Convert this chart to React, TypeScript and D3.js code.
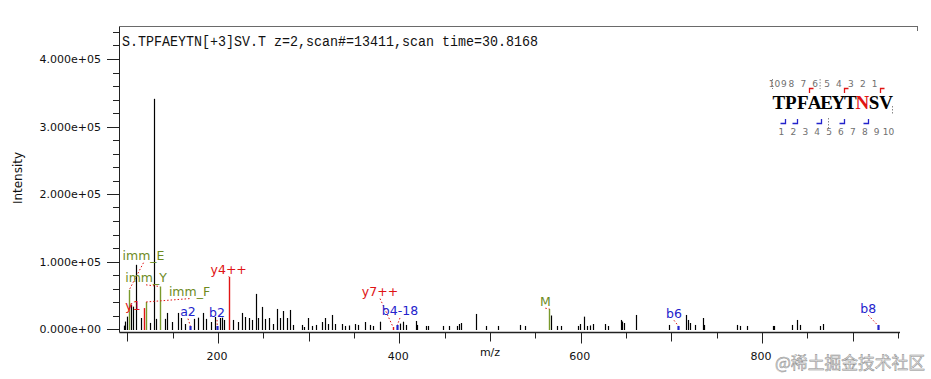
import React from "react";
import * as d3 from "d3";

// ---------- data ----------
const titleText = "S.TPFAEYTN[+3]SV.T z=2,scan#=13411,scan time=30.8168";
const xAxisTitle = "m/z";
const yAxisTitle = "Intensity";

// unannotated (black) peaks
const noiseMz = [
  95.8, 97.8, 100.0, 104.4, 106.3, 109.9, 114.7, 124.7, 129.1, 132.0, 141.2, 144.1, 149.3, 155.9,
  159.5, 163.3, 173.5, 177.9, 183.5, 187.1, 191.9, 197.0, 201.9, 204.4, 206.6, 216.5, 222.1, 226.1,
  229.8, 234.5, 237.8, 241.4, 244.4, 248.2, 251.8, 256.2, 261.0, 265.1, 268.4, 272.0, 275.8, 279.4,
  283.0, 292.3, 295.2, 298.9, 303.3, 307.8, 315.0, 318.0, 321.0, 325.4, 329.0, 336.4, 340.1, 344.5,
  351.1, 354.7, 362.1, 367.6, 371.3, 378.7, 400.7, 404.4, 407.3, 418.7, 420.0, 429.4, 431.9, 447.8,
  455.1, 463.2, 466.1, 467.7, 484.5, 495.6, 509.1, 533.1, 538.6, 567.8, 574.2, 578.0, 597.4, 599.2,
  603.7, 606.6, 610.3, 613.9, 626.8, 629.8, 644.5, 645.9, 648.1, 660.7, 697.4, 715.9, 718.0, 720.6,
  726.1, 734.9, 736.4, 772.7, 775.7, 783.1, 811.8, 812.9, 832.7, 838.2, 841.9, 863.9, 866.9,
];
const noiseIntensity = [
  5000, 11000, 18300, 35700, 33100, 95100, 16300, 9000, 341000, 15000, 15000, 23800, 10400, 23800,
  16300, 7400, 15000, 16800, 23800, 15000, 10400, 17800, 16300, 16800, 13400, 13400, 10400, 23800,
  17800, 16300, 13400, 52000, 16300, 32700, 14900, 16300, 7400, 29700, 16300, 26700, 16300, 28200,
  6000, 6000, 3000, 16300, 4500, 6000, 10400, 16300, 7400, 20800, 7400, 7400, 4500, 5200,
  7400, 6000, 10400, 6000, 4500, 10800, 8000, 10800, 6000, 11900, 6000, 4500, 4500, 4500,
  4500, 4500, 7400, 8900, 22300, 4500, 4500, 6000, 4500, 20000, 4500, 4500, 4500, 7400,
  18300, 4500, 5200, 7400, 7400, 4500, 13400, 11100, 8900, 20800, 6000, 20800, 13400, 8900,
  6000, 16300, 6000, 6000, 4500, 4500, 4500, 4500, 6000, 13400, 6000, 4500, 7400,
];

// annotated ion peaks
const ionNames = ["imm_E", "y1", "imm_F", "imm_Y", "a2", "b2", "y4++", "y7++", "b4-18", "M", "b6", "b8"];
const ionKinds = ["imm", "y", "imm", "imm", "b", "b", "y", "y", "b", "imm", "b", "b"];
const ionMz = [102.1, 118.1, 120.1, 136.1, 169.5, 199.2, 211.8, 393.0, 397.8, 565.6, 707.7, 927.4];
const ionIntensity = [58000, 31000, 40000, 62900, 4500, 4500, 77300, 3000, 6000, 29700, 4500, 6000];
const labelMz = [117.8, 106.3, 168.6, 120.6, 166.9, 198.9, 211.8, 378.7, 400.7, 561.0, 702.9, 917.2];
const labelIntensity = [108500, 34200, 55400, 75800, 25700, 23800, 88400, 55400, 26700, 41200, 23300, 30800];
const labelConnector = [true, false, true, true, true, true, true, true, true, true, true, true];

// peptide sequence map
const sequence = ["T", "P", "F", "A", "E", "Y", "T", "N", "S", "V"];
const modifiedResidue = 7;
const yBreaks = [3, 6, 9];
const bBreaks = [1, 2, 4, 6, 8];

const kindColor: Record<string, string> = {
  imm: "#7a9a2c",
  y: "#e01414",
  b: "#2323cc",
};
const labelColor: Record<string, string> = {
  imm: "#6e8b1e",
  y: "#e01414",
  b: "#2323cc",
};

function sci(v: number) {
  const [m, e] = v.toExponential(3).split("e");
  const sign = e[0] === "-" ? "-" : "+";
  const digits = e.replace(/[+-]/, "").padStart(2, "0");
  return `${m}e${sign}${digits}`;
}

export default function App() {
  const W = 931;
  const H = 379;
  const x = d3.scaleLinear().domain([90.8, 952.2]).range([119, 900]);
  const y = d3.scaleLinear().domain([0, 440000]).range([329, 32]);
  const axisY = 332.5;
  const axisX = 119.5;

  const yTicks = d3.range(0, 440001, 20000);
  const xTicks = d3.range(100, 951, 50);

  const seqX = d3.scaleLinear().domain([0, 10]).range([773.0, 892.0]);
  const px = (v: number) => Math.round(x(v)) + 0.5;

  const yNumX = (n: number) => {
    if (n === 10) return seqX(0.5) - 4.5;
    if (n === 9) return seqX(0.5) + 5;
    return seqX(9 - n + 0.5) + 0.5;
  };

  return (
    <svg
      width={W}
      height={H}
      style={{ position: "absolute", left: 0, top: 0, background: "#fff" }}
      fontFamily="'DejaVu Sans', Verdana, sans-serif"
    >
      <rect x={0} y={0} width={W} height={H} fill="#fff" />

      {/* frame */}
      <line x1={axisX} x2={918} y1={26.5} y2={26.5} stroke="#6a6a6a" />
      <line x1={917.5} x2={917.5} y1={26.5} y2={31} stroke="#6a6a6a" />

      {/* title */}
      <text x={122} y={46} fontFamily="'Liberation Mono', 'DejaVu Sans Mono', monospace" fontSize={14} textLength={416} lengthAdjust="spacingAndGlyphs" fill="#111">
        {titleText}
      </text>

      {/* y axis */}
      <line x1={axisX} x2={axisX} y1={26.5} y2={axisY} stroke="#222" />
      {yTicks.map((t) => {
        const major = t % 100000 === 0;
        const yy = Math.round(y(t)) + 0.5;
        return (
          <g key={"yt" + t}>
            <line x1={major ? 107 : 113} x2={axisX} y1={yy} y2={yy} stroke="#222" />
            {major && (
              <text x={101} y={yy} textAnchor="end" dominantBaseline="central" fontSize={11} fill="#111">
                {sci(t)}
              </text>
            )}
          </g>
        );
      })}
      <text
        transform={`translate(18,178) rotate(-90)`}
        textAnchor="middle"
        dominantBaseline="central"
        fontSize={12}
        fill="#111"
      >
        {yAxisTitle}
      </text>

      {/* x axis */}
      <line x1={axisX} x2={900} y1={axisY} y2={axisY} stroke="#222" strokeWidth={1.3} />
      {xTicks.map((t) => {
        const labeled = t % 200 === 0;
        const len = labeled ? 11 : t % 100 === 0 ? 9 : 6;
        const xx = px(t);
        return (
          <g key={"xt" + t}>
            <line x1={xx} x2={xx} y1={axisY} y2={axisY + len} stroke="#222" />
            {labeled && (
              <text x={x(t) - 1} y={356.5} textAnchor="middle" dominantBaseline="central" fontSize={11} fill="#111">
                {t}
              </text>
            )}
          </g>
        );
      })}
      <text x={x(500)} y={352} textAnchor="middle" dominantBaseline="central" fontSize={11} fill="#111">
        {xAxisTitle}
      </text>

      {/* noise peaks */}
      {noiseMz.map((m, i) => (
        <line
          key={"n" + i}
          x1={px(m)}
          x2={px(m)}
          y1={y(noiseIntensity[i])}
          y2={y(0) + 1}
          stroke="#000"
          strokeWidth={1.2}
        />
      ))}

      {/* ion peaks */}
      {ionMz.map((m, i) => (
        <line
          key={"ion" + i}
          x1={px(m)}
          x2={px(m)}
          y1={y(ionIntensity[i])}
          y2={y(0) + 1}
          stroke={kindColor[ionKinds[i]]}
          strokeWidth={ionKinds[i] === "b" ? 2.2 : 1.4}
        />
      ))}

      {/* connectors */}
      {ionMz.map((m, i) =>
        labelConnector[i] ? (
          <line
            key={"c" + i}
            x1={x(labelMz[i])}
            y1={y(labelIntensity[i]) + 7}
            x2={x(m)}
            y2={y(ionIntensity[i])}
            stroke="#e01414"
            strokeDasharray="1.5,2"
            strokeWidth={1}
          />
        ) : null
      )}

      {/* labels */}
      {ionNames.map((n, i) => (
        <text
          key={"l" + i}
          x={x(labelMz[i])}
          y={y(labelIntensity[i])}
          textAnchor="middle"
          dominantBaseline="central"
          fontSize={12.5}
          fill={labelColor[ionKinds[i]]}
        >
          {n}
        </text>
      ))}

      {/* sequence map */}
      <g>
        {sequence.map((aa, i) => (
          <text
            key={"aa" + i}
            x={seqX(i + 0.5)}
            y={109}
            textAnchor="middle"
            fontFamily="'Liberation Serif', 'DejaVu Serif', serif"
            fontWeight="bold"
            fontSize={19}
            fill={i === modifiedResidue ? "#e01414" : "#000"}
          >
            {aa}
          </text>
        ))}
        {d3.range(1, 11).map((n) => (
          <text key={"yn" + n} x={yNumX(n)} y={83.5} textAnchor="middle" dominantBaseline="central" fontSize={9} fill="#6f6f6f">
            {n}
          </text>
        ))}
        {d3.range(1, 11).map((n) => (
          <text key={"bn" + n} x={seqX(n - 1 + 0.5) + 2.5} y={131.5} textAnchor="middle" dominantBaseline="central" fontSize={9} fill="#6f6f6f">
            {n}
          </text>
        ))}
        {yBreaks.map((k) => (
          <path
            key={"yb" + k}
            d={`M${Math.round(seqX(k)) + 0.5},93 V88.5 H${Math.round(seqX(k)) + 4.5}`}
            fill="none"
            stroke="#e01414"
            strokeWidth={1.3}
          />
        ))}
        {bBreaks.map((k) => (
          <path
            key={"bb" + k}
            d={`M${Math.round(seqX(k)) - 4.5},123.5 H${Math.round(seqX(k)) + 0.5} V119`}
            fill="none"
            stroke="#2323cc"
            strokeWidth={1.3}
          />
        ))}
        {[0, 4].map((k) => (
          <line key={"gd" + k} x1={seqX(k) - 0.5} x2={seqX(k) - 0.5} y1={79} y2={89} stroke="#888" strokeDasharray="1.5,1.5" />
        ))}
        <line x1={seqX(10) + 0.5} x2={seqX(10) + 0.5} y1={106} y2={114} stroke="#888" strokeDasharray="1.5,1.5" />
        <line x1={seqX(5) - 4} x2={seqX(5) - 4} y1={118} y2={128} stroke="#888" strokeDasharray="1.5,1.5" />
      </g>

      {/* site watermark */}
      <text
        x={925}
        y={369}
        textAnchor="end"
        fontFamily="'Noto Sans CJK SC', sans-serif"
        fontSize={17}
        textLength={150}
        lengthAdjust="spacingAndGlyphs"
        fill="#e6e6e6"
        stroke="#8c8c8c"
        strokeWidth={0.5}
      >
        @稀土掘金技术社区
      </text>
    </svg>
  );
}
